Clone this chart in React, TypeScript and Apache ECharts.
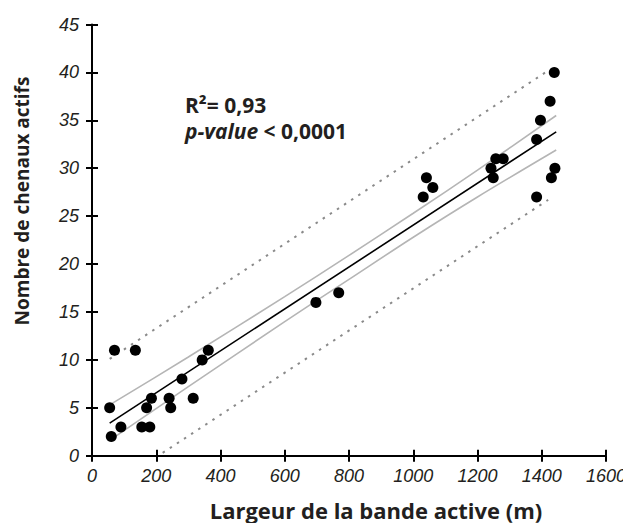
import React, { useEffect, useRef } from "react";
import * as echarts from "echarts";

// Observed points (Largeur de la bande active, Nombre de chenaux actifs)
const obsX = [55, 60, 70, 90, 135, 155, 180, 170, 185, 240, 245, 280, 315, 343, 362, 697, 768, 1041, 1061, 1031, 1257, 1280, 1242, 1249, 1439, 1426, 1396, 1384, 1441, 1430, 1384];
const obsY = [5, 2, 11, 3, 11, 3, 3, 5, 6, 6, 5, 8, 6, 10, 11, 16, 17, 29, 28, 27, 31, 31, 30, 29, 40, 37, 35, 33, 30, 29, 27];

// Regression line
const fitX = [55, 1445];
const fitY = [3.4, 33.8];

// Confidence band
const confX = [55, 300, 600, 800, 1000, 1200, 1445];
const confUpper = [5.3, 10.3, 16.6, 20.9, 25.3, 29.8, 35.5];
const confLower = [1.6, 7.2, 14.0, 18.4, 22.8, 27.0, 31.9];

// Prediction band
const predUpperX = [55, 1425];
const predUpperY = [10.1, 40.3];
const predLowerX = [220, 1420];
const predLowerY = [0.3, 26.7];

const xTicks = { min: 0, max: 1600, interval: 200 };
const yTicks = { min: 0, max: 45, interval: 5 };

const zip = (a: number[], b: number[]) => a.map((v, i) => [v, b[i]]);

const TXT = "#231f20";
const TICKFONT = "'Liberation Sans', Arial, sans-serif";
const BOLDFONT = "'Open Sans', 'Noto Sans', sans-serif";

export default function App() {
  const ref = useRef<HTMLDivElement>(null);
  useEffect(() => {
    if (!ref.current) return;
    const chart = echarts.init(ref.current, undefined, { renderer: "svg" });
    const axisLine = { show: true, lineStyle: { color: "#000", width: 2 } };
    const labelStyle = {
      color: TXT,
      fontFamily: TICKFONT,
      fontStyle: "italic",
      fontSize: 18,
      formatter: (v: number) => String(v),
    };
    const option: any = {
      animation: false,
      backgroundColor: "#fff",
      grid: { left: 92, right: 25, top: 24.5, bottom: 75.3, containLabel: false },
      xAxis: [
        {
          type: "value",
          ...xTicks,
          axisLine,
          splitLine: { show: false },
          axisTick: { show: true, inside: false, length: 6, lineStyle: { color: "#000", width: 2 } },
          axisLabel: { margin: 11, ...labelStyle },
        },
        {
          type: "value",
          ...xTicks,
          position: "bottom",
          axisLine: { show: false },
          splitLine: { show: false },
          axisTick: { show: true, inside: true, length: 6, lineStyle: { color: "#000", width: 2 } },
          axisLabel: { show: false },
        },
      ],
      yAxis: [
        {
          type: "value",
          ...yTicks,
          axisLine,
          splitLine: { show: false },
          axisTick: { show: true, inside: false, length: 6, lineStyle: { color: "#000", width: 2 } },
          axisLabel: { margin: 13, ...labelStyle },
        },
        {
          type: "value",
          ...yTicks,
          position: "left",
          axisLine: { show: false },
          splitLine: { show: false },
          axisTick: { show: true, inside: true, length: 6, lineStyle: { color: "#000", width: 2 } },
          axisLabel: { show: false },
        },
      ],
      series: [
        {
          type: "line",
          data: zip(predUpperX, predUpperY),
          symbol: "none",
          lineStyle: { color: "#8a8a8a", width: 2, type: [2.5, 6] },
          z: 2,
        },
        {
          type: "line",
          data: zip(predLowerX, predLowerY),
          symbol: "none",
          lineStyle: { color: "#8a8a8a", width: 2, type: [2.5, 6] },
          z: 2,
        },
        {
          type: "line",
          data: zip(confX, confUpper),
          symbol: "none",
          smooth: 0.3,
          lineStyle: { color: "#b5b5b5", width: 1.6 },
          z: 2,
        },
        {
          type: "line",
          data: zip(confX, confLower),
          symbol: "none",
          smooth: 0.3,
          lineStyle: { color: "#b5b5b5", width: 1.6 },
          z: 2,
        },
        {
          type: "line",
          data: zip(fitX, fitY),
          symbol: "none",
          lineStyle: { color: "#000", width: 1.6 },
          z: 3,
        },
        {
          type: "scatter",
          data: zip(obsX, obsY),
          symbol: "circle",
          symbolSize: 11,
          itemStyle: { color: "#000", opacity: 1 },
          z: 4,
        },
      ],
      graphic: [
        {
          type: "text",
          left: 185,
          top: 94,
          style: { text: "R²= 0,93", font: `bold 21px ${BOLDFONT}`, lineHeight: 21, fill: TXT },
        },
        {
          type: "text",
          left: 185,
          top: 120,
          style: {
            text: "{i|p-value}{n| < 0,0001}",
            font: `bold 21px ${BOLDFONT}`,
            lineHeight: 21,
            fill: TXT,
            rich: {
              i: { fontStyle: "italic", fontWeight: "bold", fontSize: 21, lineHeight: 21, fontFamily: BOLDFONT, fill: TXT },
              n: { fontWeight: "bold", fontSize: 21, lineHeight: 21, fontFamily: BOLDFONT, fill: TXT },
            },
          },
        },
        {
          type: "text",
          x: 376,
          y: 510,
          style: {
            text: "Largeur de la bande active (m)",
            font: `bold 22px ${BOLDFONT}`,
            fill: TXT,
            align: "center",
            verticalAlign: "middle",
          },
        },
        {
          type: "text",
          x: 22,
          y: 201,
          rotation: Math.PI / 2,
          style: {
            text: "Nombre de chenaux actifs",
            font: `bold 19px ${BOLDFONT}`,
            fill: TXT,
            align: "center",
            verticalAlign: "middle",
          },
        },
      ],
    };
    chart.setOption(option);
    return () => chart.dispose();
  }, []);
  return <div ref={ref} style={{ width: 631, height: 531, margin: -8 }} />;
}
